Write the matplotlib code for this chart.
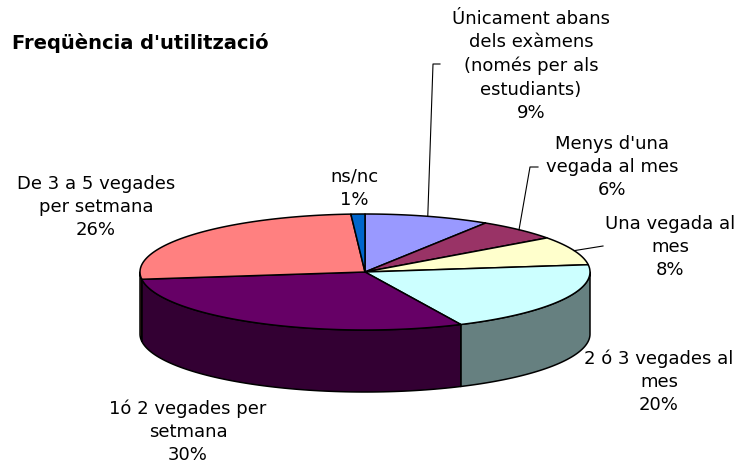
import numpy as np
import matplotlib
matplotlib.use("Agg")
import matplotlib.pyplot as plt
from matplotlib.patches import Polygon

# ---- data ----
categories = ["Únicament abans\ndels exàmens\n(només per als\nestudiants)",
              "Menys d'una\nvegada al mes",
              "Una vegada al\nmes",
              "2 ó 3 vegades al\nmes",
              "1ó 2 vegades per\nsetmana",
              "De 3 a 5 vegades\nper setmana",
              "ns/nc"]
values = [9, 6, 8, 20, 30, 26, 1]
colors = ["#9999FF", "#993366", "#FFFFCC", "#CCFFFF", "#660066", "#FF8080", "#0066CC"]
title = "Freqüència d'utilització"

# ---- layout (pixel space) ----
W, H = 747, 463
cx, cy, a, b, depth = 365, 272, 225, 58, 62
label_pos = [(531, 66), (612, 167), (670, 247), (659, 382), (188, 432), (96, 207), (354, 188)]
leader = {0: [(440, 64), (433, 64)], 1: [(538, 167), (530, 167)], 2: [(603, 246)]}

fig = plt.figure(figsize=(W / 100, H / 100), dpi=100)
ax = fig.add_axes([0, 0, 1, 1])
ax.set_xlim(0, W)
ax.set_ylim(H, 0)
ax.axis("off")

def pt(theta_deg, dz=0):
    t = np.radians(theta_deg)
    return cx + a * np.cos(t), cy - b * np.sin(t) + dz

def darker(c, f=0.5):
    r, g, bb = matplotlib.colors.to_rgb(c)
    return (r * f, g * f, bb * f)

total = sum(values)
starts, ends = [], []
ang = 90.0
for v in values:
    starts.append(ang)
    ang -= v / total * 360.0
    ends.append(ang)

# side faces (front half)
for i, (s, e) in enumerate(zip(starts, ends)):
    for k in range(-1, 2):
        lo = max(e, -180 + 360 * k)
        hi = min(s, 0 + 360 * k)
        if hi > lo:
            th = np.linspace(hi, lo, 80)
            top = [pt(t) for t in th]
            bot = [pt(t, depth) for t in th[::-1]]
            ax.add_patch(Polygon(top + bot, closed=True, facecolor=darker(colors[i]),
                                 edgecolor="black", linewidth=1.1, joinstyle="round", zorder=1))

# top faces
for i, (s, e) in enumerate(zip(starts, ends)):
    th = np.linspace(s, e, 200)
    pts = [(cx, cy)] + [pt(t) for t in th]
    ax.add_patch(Polygon(pts, closed=True, facecolor=colors[i], edgecolor="black",
                         linewidth=1.1, joinstyle="round", zorder=2))

# labels
font = dict(family="DejaVu Sans", fontsize=13, color="black")
for i, (lab, v) in enumerate(zip(categories, values)):
    x, y = label_pos[i]
    ax.text(x, y, f"{lab}\n{v}%", ha="center", va="center", multialignment="center",
            linespacing=1.37, zorder=5, **font)
    if i in leader:
        mid = (starts[i] + ends[i]) / 2
        px, py = pt(mid)
        pts = leader[i] + [(px, py)]
        xs, ys = zip(*pts)
        ax.plot(xs, ys, color="black", linewidth=0.8, zorder=4)

ax.text(12, 43, title, ha="left", va="center", fontsize=14, fontweight="bold",
        family="DejaVu Sans", color="black")

fig.savefig("out.png", dpi=100)
